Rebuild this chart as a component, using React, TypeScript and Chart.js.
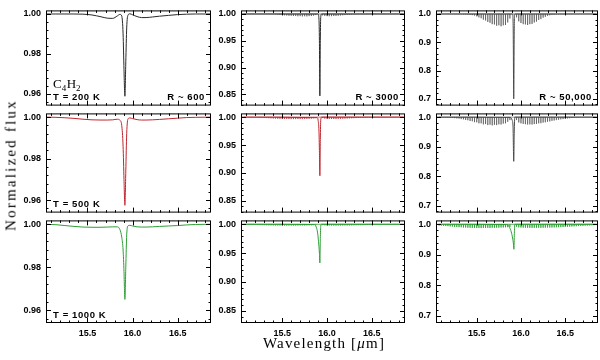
import React, { useEffect, useRef } from "react";
import { Chart, registerables } from "chart.js";
Chart.register(...registerables);

// ---------------- data ----------------
const xRange = [15.04, 16.87];
const xMajorTicks = [15.5, 16.0, 16.5];
const xMinorTicks = [15.1, 15.2, 15.3, 15.4, 15.6, 15.7, 15.8, 15.9, 16.1, 16.2, 16.3, 16.4, 16.6, 16.7, 16.8];

const yRangeR600 = [0.954, 1.0018];
const yMajorR600 = [0.96, 0.98, 1.0];
const yMinorR600 = [0.956, 0.964, 0.968, 0.972, 0.976, 0.984, 0.988, 0.992, 0.996];
const yRangeR3000 = [0.829, 1.0067];
const yMajorR3000 = [0.85, 0.9, 0.95, 1.0];
const yMinorR3000 = [0.83, 0.84, 0.86, 0.87, 0.88, 0.89, 0.91, 0.92, 0.93, 0.94, 0.96, 0.97, 0.98, 0.99];
const yRangeR50k = [0.676, 1.0127];
const yMajorR50k = [0.7, 0.8, 0.9, 1.0];
const yMinorR50k = [0.68, 0.72, 0.74, 0.76, 0.78, 0.82, 0.84, 0.86, 0.88, 0.92, 0.94, 0.96, 0.98];

// R ~ 600 spectra
const wl600 = [15.04, 15.15, 15.25, 15.35, 15.45, 15.55, 15.65, 15.72, 15.78, 15.83, 15.86, 15.88, 15.895, 15.905, 15.915, 15.925, 15.935, 15.95, 15.97, 16.0, 16.05, 16.1, 16.15, 16.22, 16.3, 16.4, 16.5, 16.6, 16.7, 16.87];
const flux600T200 = [1.0, 1.0, 1.0, 1.0, 0.9999, 0.9995, 0.9986, 0.9979, 0.9978, 0.999, 0.9998, 0.999, 0.99, 0.972, 0.9587, 0.976, 0.993, 0.9995, 1.0001, 0.9996, 0.9987, 0.9982, 0.9982, 0.9985, 0.9989, 0.9993, 0.9997, 0.9999, 1.0, 1.0];
const flux600T500 = [1.0, 0.9999, 0.9997, 0.9994, 0.999, 0.9987, 0.9986, 0.9986, 0.9987, 0.999, 0.9985, 0.996, 0.986, 0.97, 0.9575, 0.974, 0.992, 0.9992, 0.9996, 0.9993, 0.9988, 0.9986, 0.9986, 0.9987, 0.9989, 0.9992, 0.9995, 0.9998, 0.9999, 1.0];
const flux600T1000 = [1.0, 0.9998, 0.9994, 0.999, 0.9987, 0.9986, 0.9986, 0.9987, 0.9988, 0.9988, 0.9975, 0.994, 0.988, 0.978, 0.965, 0.98, 0.995, 0.9993, 0.9995, 0.9992, 0.9988, 0.9987, 0.9987, 0.9988, 0.999, 0.9992, 0.9994, 0.9997, 0.9999, 1.0];

// R ~ 3000 continuum + Q branch
const wl3000T200 = [15.04, 15.9, 15.91, 15.915, 15.92, 15.925, 15.93, 15.94, 16.87];
const flux3000T200 = [1.0, 1.0, 0.99, 0.95, 0.847, 0.95, 0.995, 1.0, 1.0];
const wl3000T500 = [15.04, 15.89, 15.9, 15.91, 15.915, 15.92, 15.925, 15.93, 15.94, 16.87];
const flux3000T500 = [1.0, 0.999, 0.995, 0.975, 0.94, 0.895, 0.96, 0.995, 1.0, 1.0];
const wl3000T1000 = [15.04, 15.86, 15.88, 15.895, 15.905, 15.915, 15.92, 15.925, 15.93, 15.94, 16.87];
const flux3000T1000 = [1.0, 0.9995, 0.995, 0.985, 0.97, 0.95, 0.933, 0.975, 0.997, 1.0, 1.0];

// R ~ 50,000 continuum + Q branch
const wl50kT200 = [15.04, 15.905, 15.912, 15.918, 15.924, 15.93, 16.87];
const flux50kT200 = [1.0, 1.0, 0.95, 0.7, 0.95, 1.0, 1.0];
const wl50kT500 = [15.04, 15.88, 15.9, 15.91, 15.918, 15.924, 15.93, 16.87];
const flux50kT500 = [1.0, 0.999, 0.99, 0.97, 0.85, 0.95, 1.0, 1.0];
const wl50kT1000 = [15.04, 15.84, 15.87, 15.89, 15.905, 15.915, 15.92, 15.925, 15.93, 16.87];
const flux50kT1000 = [1.0, 0.999, 0.99, 0.975, 0.955, 0.935, 0.918, 0.97, 1.0, 1.0];

// P / R branch line positions (µm)
const combWl = [
  15.075, 15.1, 15.125, 15.15, 15.175, 15.2, 15.225, 15.25, 15.275, 15.3, 15.325, 15.35, 15.375, 15.4, 15.425, 15.45, 15.475,
  15.5, 15.525, 15.55, 15.575, 15.6, 15.625, 15.65, 15.675, 15.7, 15.725, 15.75, 15.775, 15.8, 15.825, 15.85, 15.875,
  15.95, 15.975, 16.0, 16.025, 16.05, 16.075, 16.1, 16.125, 16.15, 16.175, 16.2, 16.225, 16.25, 16.275, 16.3, 16.325, 16.35,
  16.375, 16.4, 16.425, 16.45, 16.475, 16.5, 16.525, 16.55, 16.575, 16.6, 16.625, 16.65, 16.675, 16.7, 16.725, 16.75, 16.775,
  16.8, 16.825, 16.85,
];
// line-centre flux, R ~ 3000
const comb3000T200 = [
  0.9999, 0.9999, 0.9999, 0.9999, 0.9999, 0.9999, 0.9999, 0.9999, 0.9999, 0.9999, 0.9999, 0.9999, 0.9999, 0.9999,
  0.9995, 0.999, 0.9985, 0.998, 0.9975, 0.9972, 0.9968, 0.9966, 0.9962, 0.9962, 0.9958, 0.996, 0.9956, 0.9958, 0.9955, 0.996, 0.9962, 0.997, 0.998,
  0.9975, 0.9965, 0.996, 0.9958, 0.996, 0.9962, 0.9965, 0.9968, 0.9972, 0.9976, 0.998, 0.9984, 0.9988, 0.9991, 0.9994, 0.9996, 0.9997,
  0.9998, 0.9998, 0.9998, 0.9998, 0.9999, 0.9999, 0.9999, 0.9999, 0.9999, 0.9999, 0.9999, 0.9999, 1.0, 1.0, 1.0, 1.0, 1.0, 1.0, 1.0, 1.0,
];
const comb3000T500 = [
  0.9999, 0.9998, 0.9998, 0.9997, 0.9996, 0.9995, 0.9993, 0.9991, 0.9989, 0.9986, 0.9984, 0.9981, 0.9979, 0.9976, 0.9974, 0.9972, 0.997,
  0.9969, 0.9967, 0.9967, 0.9966, 0.9965, 0.9965, 0.9965, 0.9966, 0.9966, 0.9967, 0.9968, 0.997, 0.9972, 0.9975, 0.998, 0.9986,
  0.9985, 0.9975, 0.997, 0.9968, 0.9967, 0.9967, 0.9968, 0.9969, 0.997, 0.9972, 0.9974, 0.9976, 0.9978, 0.998, 0.9982, 0.9984, 0.9986,
  0.9988, 0.999, 0.9991, 0.9993, 0.9994, 0.9995, 0.9996, 0.9997, 0.9997, 0.9998, 0.9998, 0.9998, 0.9999, 0.9999, 0.9999, 0.9999, 1.0,
  1.0, 1.0, 1.0,
];
const comb3000T1000 = [
  0.9993, 0.9992, 0.9991, 0.999, 0.9989, 0.9988, 0.9987, 0.9986, 0.9985, 0.9984, 0.9983, 0.9982, 0.9981, 0.998, 0.998, 0.9979, 0.9979,
  0.9978, 0.9978, 0.9978, 0.9978, 0.9978, 0.9978, 0.9978, 0.9979, 0.9979, 0.998, 0.998, 0.9981, 0.9982, 0.9983, 0.9985, 0.9988,
  0.9986, 0.9982, 0.998, 0.9979, 0.9979, 0.9978, 0.9978, 0.9978, 0.9979, 0.9979, 0.998, 0.998, 0.9981, 0.9981, 0.9982, 0.9983, 0.9984,
  0.9984, 0.9985, 0.9986, 0.9987, 0.9988, 0.9988, 0.9989, 0.999, 0.9991, 0.9991, 0.9992, 0.9993, 0.9993, 0.9994, 0.9995, 0.9995, 0.9996,
  0.9996, 0.9997, 0.9997,
];
// line-centre flux, R ~ 50,000
const comb50kT200 = [
  0.9998, 0.9998, 0.9997, 0.9997, 0.9996, 0.9996, 0.9995, 0.9994, 0.9993, 0.9991, 0.999, 0.9987, 0.9984, 0.998, 0.9972, 0.996, 0.9945,
  0.9915, 0.988, 0.985, 0.98, 0.977, 0.972, 0.969, 0.964, 0.963, 0.9585, 0.96, 0.9565, 0.96, 0.961, 0.97, 0.984,
  0.988, 0.974, 0.968, 0.964, 0.963, 0.961, 0.964, 0.965, 0.97, 0.973, 0.979, 0.982, 0.987, 0.99, 0.9935, 0.9955, 0.997,
  0.9978, 0.9984, 0.9988, 0.999, 0.9992, 0.9993, 0.9994, 0.9995, 0.9995, 0.9996, 0.9996, 0.9997, 0.9997, 0.9998, 0.9998, 0.9998, 0.9999,
  0.9999, 0.9999, 0.9999,
];
const comb50kT500 = [
  0.9992, 0.999, 0.9988, 0.9985, 0.9982, 0.9978, 0.9972, 0.9966, 0.9958, 0.995, 0.9935, 0.9925, 0.9905, 0.9895, 0.987, 0.986, 0.983,
  0.9825, 0.979, 0.979, 0.9755, 0.9765, 0.973, 0.9745, 0.972, 0.974, 0.973, 0.9755, 0.975, 0.978, 0.979, 0.984, 0.99,
  0.99, 0.982, 0.979, 0.977, 0.976, 0.975, 0.9755, 0.975, 0.9765, 0.977, 0.979, 0.9795, 0.9815, 0.9825, 0.9845, 0.9855, 0.9875,
  0.9885, 0.99, 0.9912, 0.9925, 0.9935, 0.9945, 0.9955, 0.9963, 0.997, 0.9976, 0.9981, 0.9985, 0.9988, 0.999, 0.9992, 0.9994, 0.9995,
  0.9996, 0.9997, 0.9997,
];
const comb50kT1000 = [
  0.996, 0.9955, 0.995, 0.9945, 0.994, 0.993, 0.9925, 0.9915, 0.9912, 0.9905, 0.9902, 0.9895, 0.9893, 0.9888, 0.9887, 0.9882, 0.9884,
  0.988, 0.9882, 0.9878, 0.9882, 0.988, 0.9884, 0.9882, 0.9886, 0.9885, 0.989, 0.989, 0.9895, 0.9895, 0.99, 0.9905, 0.9915,
  0.992, 0.99, 0.9895, 0.989, 0.9888, 0.9885, 0.9885, 0.9883, 0.9885, 0.9884, 0.9886, 0.9886, 0.9888, 0.9889, 0.9892, 0.9893, 0.9896,
  0.9898, 0.9901, 0.9904, 0.9907, 0.9911, 0.9915, 0.9919, 0.9923, 0.9928, 0.9932, 0.9937, 0.9941, 0.9946, 0.995, 0.9955, 0.9959, 0.9963,
  0.9967, 0.997, 0.9973,
];

// ---------------- layout / style ----------------
const colX = [[46, 211], [241, 405], [436, 598]];
const rowY = [[7, 110], [110, 217], [217, 323]];
const PADL = 40, PADT = 7, PADR = 6, PADB = 6, XLAB = 22;

const C_BLACK = "#2a2a2a";
const C_GRAY = "#4a4a4a";
const C_RED = "#c0262e";
const C_GREEN = "#2f9e36";
const C_COMB_GRAY = "rgba(70,70,70,0.6)";
const C_COMB_RED = "rgba(192,38,46,0.7)";
const C_COMB_GREEN = "rgba(47,158,54,0.8)";

const colAxes = [
  { range: yRangeR600, major: yMajorR600, minor: yMinorR600, digits: 2 },
  { range: yRangeR3000, major: yMajorR3000, minor: yMinorR3000, digits: 2 },
  { range: yRangeR50k, major: yMajorR50k, minor: yMinorR50k, digits: 1 },
];

type Note = { text: string; side: "left" | "right" };
type PanelSpec = {
  row: number; col: number; lx: number[]; ly: number[]; comb: number[] | null;
  color: string; combColor: string; notes: Note[]; formula?: boolean;
};

const panels: PanelSpec[] = [
  { row: 0, col: 0, lx: wl600, ly: flux600T200, comb: null, color: C_BLACK, combColor: C_BLACK, formula: true,
    notes: [{ text: "T = 200 K", side: "left" }, { text: "R ~ 600", side: "right" }] },
  { row: 0, col: 1, lx: wl3000T200, ly: flux3000T200, comb: comb3000T200, color: C_BLACK, combColor: C_COMB_GRAY,
    notes: [{ text: "R ~ 3000", side: "right" }] },
  { row: 0, col: 2, lx: wl50kT200, ly: flux50kT200, comb: comb50kT200, color: C_GRAY, combColor: C_COMB_GRAY,
    notes: [{ text: "R ~ 50,000", side: "right" }] },
  { row: 1, col: 0, lx: wl600, ly: flux600T500, comb: null, color: C_RED, combColor: C_RED,
    notes: [{ text: "T = 500 K", side: "left" }] },
  { row: 1, col: 1, lx: wl3000T500, ly: flux3000T500, comb: comb3000T500, color: C_RED, combColor: C_COMB_RED, notes: [] },
  { row: 1, col: 2, lx: wl50kT500, ly: flux50kT500, comb: comb50kT500, color: C_GRAY, combColor: C_COMB_GRAY, notes: [] },
  { row: 2, col: 0, lx: wl600, ly: flux600T1000, comb: null, color: C_GREEN, combColor: C_GREEN,
    notes: [{ text: "T = 1000 K", side: "left" }] },
  { row: 2, col: 1, lx: wl3000T1000, ly: flux3000T1000, comb: comb3000T1000, color: C_GREEN, combColor: C_COMB_GREEN, notes: [] },
  { row: 2, col: 2, lx: wl50kT1000, ly: flux50kT1000, comb: comb50kT1000, color: C_GREEN, combColor: C_COMB_GREEN, notes: [] },
];

const TICK_FONT = { family: "'Liberation Sans', Arial, sans-serif", size: 9, weight: "bold" as const };

const framePlugin = {
  id: "frame",
  afterDraw(chart: any, _args: any, opts: any) {
    const { ctx, chartArea: a, scales } = chart;
    const xs = scales.x, ys = scales.y;
    ctx.save();
    ctx.strokeStyle = "#000";
    ctx.lineWidth = 1;
    ctx.strokeRect(a.left + 0.5, a.top + 0.5, a.right - a.left - 1, a.bottom - a.top - 1);
    const seg = (x1: number, y1: number, x2: number, y2: number) => {
      ctx.beginPath(); ctx.moveTo(x1, y1); ctx.lineTo(x2, y2); ctx.stroke();
    };
    const xt = (vals: number[], len: number) => vals.forEach((v) => {
      const p = Math.round(xs.getPixelForValue(v)) + 0.5;
      seg(p, a.bottom, p, a.bottom - len); seg(p, a.top, p, a.top + len);
    });
    const yt = (vals: number[], len: number) => vals.forEach((v) => {
      const p = Math.round(ys.getPixelForValue(v)) + 0.5;
      seg(a.left, p, a.left + len, p); seg(a.right, p, a.right - len, p);
    });
    xt(opts.xMajor, 5); xt(opts.xMinor, 2.5);
    yt(opts.yMajor, 5); yt(opts.yMinor, 2.5);

    ctx.fillStyle = "#000";
    ctx.textBaseline = "middle";
    const ty = a.bottom - 8;
    ctx.font = "bold 9.5px 'Liberation Sans', Arial, sans-serif";
    (ctx as any).letterSpacing = "0.6px";
    (opts.notes as Note[]).forEach((n) => {
      if (n.side === "left") { ctx.textAlign = "left"; ctx.fillText(n.text, a.left + 7, ty); }
      else { ctx.textAlign = "right"; ctx.fillText(n.text, a.right - 6, ty); }
    });
    (ctx as any).letterSpacing = "0px";
    if (opts.formula) {
      ctx.textAlign = "left";
      ctx.textBaseline = "alphabetic";
      let x = a.left + 7;
      const base = a.bottom - 18;
      const big = "13px 'Liberation Serif', 'Times New Roman', serif";
      const small = "9px 'Liberation Serif', 'Times New Roman', serif";
      const parts: [string, boolean][] = [["C", false], ["4", true], ["H", false], ["2", true]];
      parts.forEach(([t, sub]) => {
        ctx.font = sub ? small : big;
        ctx.fillText(t, x, sub ? base + 3 : base);
        x += ctx.measureText(t).width + (sub ? 0.5 : 0);
      });
    }
    ctx.restore();
  },
};

function Panel({ p }: { p: PanelSpec }) {
  const ref = useRef<HTMLCanvasElement>(null);
  const [x0, x1] = colX[p.col];
  const [y0, y1] = rowY[p.row];
  const isBottom = p.row === 2;
  const w = x1 - x0 + PADL + PADR;
  const h = y1 - y0 + PADT + (isBottom ? XLAB : PADB);
  useEffect(() => {
    const ax = colAxes[p.col];
    const lineData = p.lx.map((x, i) => ({ x, y: p.ly[i] }));
    const datasets: any[] = [];
    if (p.comb) {
      const n = Math.min(combWl.length, p.comb.length);
      const spikes: { x: number; y: number }[] = [];
      for (let i = 0; i < n; i++) {
        spikes.push({ x: combWl[i], y: 1.0 }, { x: combWl[i], y: p.comb[i] }, { x: combWl[i], y: 1.0 });
      }
      datasets.push({ data: spikes, borderColor: p.combColor, borderWidth: 1, pointRadius: 0, tension: 0 });
    }
    datasets.push({ data: lineData, borderColor: p.color, borderWidth: 1, pointRadius: 0, cubicInterpolationMode: "monotone" });
    const chart = new Chart(ref.current!, {
      type: "line",
      data: { datasets },
      plugins: [framePlugin],
      options: {
        animation: false,
        responsive: false,
        devicePixelRatio: 1,
        layout: { padding: { left: 0, top: PADT, right: PADR, bottom: isBottom ? 0 : PADB } },
        plugins: {
          legend: { display: false },
          tooltip: { enabled: false },
          frame: { xMajor: xMajorTicks, xMinor: xMinorTicks, yMajor: ax.major, yMinor: ax.minor, notes: p.notes, formula: !!p.formula },
        } as any,
        scales: {
          x: {
            type: "linear", min: xRange[0], max: xRange[1],
            grid: { display: false, drawTicks: false }, border: { display: false },
            ticks: { display: isBottom, font: TICK_FONT, color: "#000", padding: 5, maxRotation: 0, autoSkip: false,
              callback: (v: any) => Number(v).toFixed(1) },
            afterBuildTicks: (s: any) => { s.ticks = xMajorTicks.map((v) => ({ value: v })); },
            afterFit: (s: any) => { s.height = isBottom ? XLAB : 0; },
          },
          y: {
            type: "linear", min: ax.range[0], max: ax.range[1],
            grid: { display: false, drawTicks: false }, border: { display: false },
            ticks: { font: TICK_FONT, color: "#000", padding: 5, autoSkip: false,
              callback: (v: any) => Number(v).toFixed(ax.digits) },
            afterBuildTicks: (s: any) => { s.ticks = ax.major.map((v) => ({ value: v })); },
            afterFit: (s: any) => { s.width = PADL; },
          },
        },
      } as any,
    });
    return () => chart.destroy();
  }, []);
  return (
    <canvas ref={ref} width={w} height={h}
      style={{ position: "absolute", left: x0 - PADL, top: y0 - PADT, width: w, height: h }} />
  );
}

export default function App() {
  return (
    <div style={{ position: "fixed", left: 0, top: 0, width: 600, height: 360, background: "#fff", overflow: "hidden" }}>
      {panels.map((p, i) => <Panel key={i} p={p} />)}
      <div style={{
        position: "absolute", left: 11, top: 165, transform: "translate(-50%, -50%) rotate(-90deg)",
        font: "15px 'Liberation Serif', 'Times New Roman', serif", letterSpacing: "2.2px", whiteSpace: "nowrap", color: "#000",
      }}>Normalized flux</div>
      <div style={{
        position: "absolute", left: 324, top: 343, transform: "translate(-50%, -50%)",
        font: "15px 'Liberation Serif', 'Times New Roman', serif", letterSpacing: "1.2px", whiteSpace: "nowrap", color: "#000",
      }}>Wavelength [<i>μ</i>m]</div>
    </div>
  );
}
